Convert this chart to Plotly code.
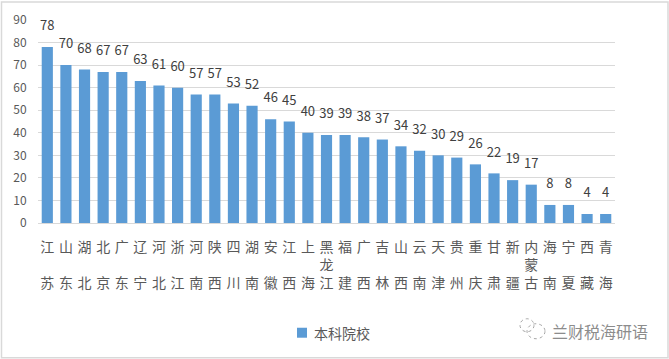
import plotly.graph_objects as go

provinces = ["江苏","山东","湖北","北京","广东","辽宁","河北","浙江","河南","陕西","四川","湖南","安徽","江西","上海","黑龙江",
             "福建","广西","吉林","山西","云南","天津","贵州","重庆","甘肃","新疆","内蒙古","海南","宁夏","西藏","青海"]
colleges = [78,70,68,67,67,63,61,60,57,57,53,52,46,45,40,39,39,38,37,34,32,30,29,26,22,19,17,8,8,4,4]
series_name = "本科院校"
watermark = "兰财税海研语"

FONT = "Noto Sans CJK SC"
GREY = "#595959"
W, H = 577.0, 203.5
L, T = 38.0, 19.5

def px(x):
    return (x - L) / W

def py(y):
    return (T + H - y) / H

def stack(name):
    return "<br>".join(name) if len(name) > 2 else name[0] + "<br><br>" + name[1]

xs = list(range(len(provinces)))
fig = go.Figure()
fig.add_bar(x=xs, y=colleges, name=series_name, marker=dict(color="#5B9BD5", line_width=0),
            width=0.6, showlegend=False)
fig.add_scatter(x=xs, y=colleges, mode="markers+text", text=[str(v) for v in colleges],
                textposition="top center", textfont=dict(size=13, color="#404040", family=FONT),
                marker=dict(size=20, opacity=0), cliponaxis=False, showlegend=False, hoverinfo="skip")

def bubble(x0, y0, x1, y1):
    return dict(type="circle", xref="paper", yref="paper", layer="above",
                x0=px(x0), x1=px(x1), y0=py(y1), y1=py(y0),
                line=dict(color="#A6A6A6", width=1, dash="dot"), fillcolor="rgba(0,0,0,0)")

fig.update_layout(
    width=669, height=359, autosize=False,
    margin=dict(l=L, r=669 - L - W, t=T, b=359 - T - H, autoexpand=False),
    paper_bgcolor="white", plot_bgcolor="white",
    font=dict(family=FONT, color=GREY),
    showlegend=False,
    xaxis=dict(
        tickmode="array", tickvals=xs,
        ticktext=[stack(p) for p in provinces], tickangle=0,
        range=[-0.5, len(provinces) - 0.5],
        tickfont=dict(size=14, color=GREY, family=FONT),
        ticks="outside", ticklen=11, tickcolor="rgba(0,0,0,0)",
        showline=True, linecolor="#D9D9D9", linewidth=1, showgrid=False, zeroline=False,
    ),
    yaxis=dict(
        range=[0, 90], dtick=10, gridcolor="#D9D9D9", gridwidth=1, zeroline=False,
        showline=False, tickfont=dict(size=12, color=GREY, family=FONT),
        ticks="outside", ticklen=8, tickcolor="rgba(0,0,0,0)",
    ),
    shapes=[
        dict(type="rect", xref="paper", yref="paper", layer="above",
             x0=px(1.5), x1=px(668), y0=py(358), y1=py(1.5),
             line=dict(color="#D9D9D9", width=1.5), fillcolor="rgba(0,0,0,0)"),
        dict(type="rect", xref="paper", yref="paper", layer="above",
             x0=px(297), x1=px(307), y0=py(338), y1=py(328),
             line_width=0, fillcolor="#5B9BD5"),
        bubble(520, 319, 534, 332),
        bubble(527, 324, 545, 339),
    ],
    annotations=[
        dict(text=series_name, xref="paper", yref="paper", x=px(312), y=py(333),
             showarrow=False, font=dict(size=14, color=GREY, family=FONT), xanchor="left", yanchor="middle"),
        dict(text=watermark, xref="paper", yref="paper", x=px(600), y=py(331),
             showarrow=False, font=dict(size=16, color="#8C8C8C", family=FONT), xanchor="center", yanchor="middle"),
    ],
)
fig.write_html("out.html", config={"displayModeBar": False},
               post_script="document.body.style.margin='0';")
